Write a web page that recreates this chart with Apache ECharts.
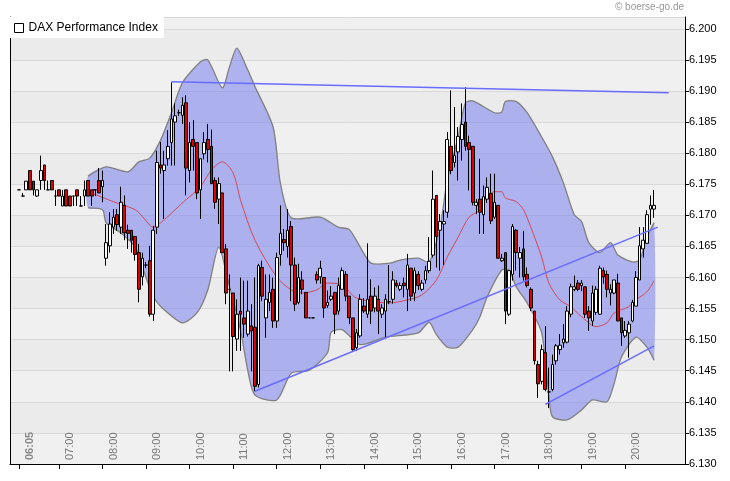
<!DOCTYPE html>
<html><head><meta charset="utf-8">
<script src="https://cdn.jsdelivr.net/npm/echarts@6/dist/echarts.min.js"></script>
<style>html,body{margin:0;padding:0;background:#fff}#c{width:730px;height:481px}</style>
</head><body><div id="c"></div>
<script>
const startTime = '06:05';
const hourLabels = ['06:05','07:00','08:00','09:00','10:00','11:00','12:00','13:00','14:00','15:00','16:00','17:00','18:00','19:00','20:00'];
const yTicks = [6130,6135,6140,6145,6150,6155,6160,6165,6170,6175,6180,6185,6190,6195,6200];
// [open, close, low, high], 5-minute candles from 06:05
const ohlc = [
[6174.1,6174.1,6174.1,6174.1],[6173.1,6173.1,6173.1,6173.6],[6174.1,6175.5,6174.1,6175.5],[6177.2,6174.1,6174.1,6177.2],
[6175.5,6174.1,6173.2,6175.5],[6173.1,6174.1,6173.0,6174.1],[6175.6,6177.2,6174.1,6179.6],[6178.1,6175.6,6174.1,6178.1],
[6174.1,6174.1,6174.1,6175.6],[6175.6,6174.1,6174.1,6175.6],[6173.1,6173.1,6171.5,6174.1],[6174.1,6173.1,6173.1,6174.1],
[6171.5,6173.1,6171.5,6174.1],[6174.1,6171.5,6171.5,6174.1],[6173.1,6171.5,6171.5,6173.1],[6173.1,6173.1,6171.5,6173.1],
[6174.1,6173.1,6171.5,6174.1],[6171.5,6171.5,6171.5,6173.1],[6173.1,6174.1,6171.5,6175.6],[6175.6,6173.1,6173.1,6175.6],
[6174.1,6173.1,6171.5,6174.1],[6174.1,6174.1,6173.1,6174.1],[6175.6,6173.6,6173.6,6177.6],[6174.6,6175.6,6172.1,6177.2],
[6163.1,6165.6,6161.9,6168.6],[6165.1,6168.6,6164.0,6170.5],[6168.1,6169.7,6167.0,6171.0],[6170.1,6168.5,6167.5,6171.0],
[6168.1,6172.1,6167.0,6174.6],[6171.6,6167.2,6166.0,6173.2],[6167.6,6167.1,6164.6,6168.5],[6167.6,6166.0,6164.0,6167.6],
[6166.6,6163.7,6162.7,6166.6],[6164.0,6158.1,6156.0,6165.4],[6160.1,6163.1,6158.7,6164.0],[6162.0,6162.0,6161.5,6162.5],
[6162.7,6154.1,6153.7,6165.1],[6154.1,6167.6,6153.0,6168.3],[6168.1,6178.5,6167.0,6180.4],[6178.1,6177.6,6176.7,6181.8],
[6177.2,6178.1,6169.4,6180.4],[6179.1,6181.1,6178.0,6183.7],[6181.7,6185.5,6178.0,6191.4],[6185.0,6186.0,6178.0,6188.0],
[6186.5,6186.5,6186.0,6187.0],[6186.1,6187.7,6184.7,6189.0],[6188.1,6177.6,6173.2,6189.3],[6177.2,6181.7,6175.3,6185.0],
[6182.2,6181.1,6177.2,6185.3],[6181.7,6173.6,6172.6,6181.7],[6174.1,6179.1,6169.4,6179.1],[6179.9,6181.7,6179.0,6183.4],
[6182.2,6180.6,6178.5,6184.7],[6181.1,6175.1,6175.1,6183.8],[6175.6,6172.1,6171.0,6176.1],[6172.6,6175.1,6168.6,6176.1],
[6173.6,6164.0,6164.0,6173.6],[6164.6,6157.5,6155.7,6165.4],[6158.1,6158.1,6144.9,6160.5],[6157.5,6150.5,6144.9,6157.5],
[6150.1,6154.1,6148.2,6156.5],[6154.6,6154.1,6148.2,6160.0],[6153.5,6152.5,6150.3,6159.5],[6150.9,6154.6,6150.5,6159.5],
[6152.2,6151.4,6144.9,6155.7],[6152.0,6142.5,6141.7,6160.0],[6142.8,6161.9,6142.3,6162.2],[6161.6,6157.0,6156.2,6162.7],
[6153.5,6156.5,6150.3,6160.5],[6156.0,6157.6,6154.6,6160.5],[6158.1,6153.0,6151.9,6160.0],[6153.0,6163.2,6151.9,6164.0],
[6163.7,6167.1,6161.9,6171.6],[6166.1,6165.6,6164.3,6167.8],[6165.0,6167.6,6163.2,6171.0],[6168.2,6162.0,6156.2,6169.1],
[6162.0,6155.7,6154.6,6163.2],[6156.0,6160.0,6155.7,6162.2],[6159.6,6158.1,6157.3,6161.0],[6157.6,6153.5,6153.5,6157.6],
[6153.5,6153.5,6153.5,6153.5],[6153.5,6153.5,6153.5,6153.5],[6160.5,6159.6,6159.0,6161.0],[6160.1,6161.5,6159.0,6162.7],
[6160.0,6155.1,6153.5,6160.0],[6155.5,6156.0,6155.1,6157.9],[6156.5,6157.0,6156.2,6158.6],[6157.6,6154.1,6150.9,6157.6],
[6154.6,6158.7,6154.0,6160.0],[6158.1,6161.1,6158.1,6161.6],[6160.5,6157.0,6156.2,6161.0],[6157.0,6153.5,6152.5,6157.0],
[6153.5,6148.4,6148.2,6153.5],[6148.7,6151.1,6148.2,6151.7],[6150.6,6156.5,6150.3,6157.3],[6155.4,6154.6,6154.3,6156.7],
[6154.1,6156.5,6153.5,6165.5],[6157.0,6154.6,6152.5,6159.7],[6155.1,6157.0,6154.4,6158.4],[6156.5,6154.6,6150.9,6158.7],
[6154.1,6155.1,6153.5,6155.7],[6154.6,6156.5,6150.3,6157.3],[6156.1,6156.1,6155.7,6162.0],[6156.5,6159.6,6155.8,6161.0],
[6159.1,6158.7,6158.4,6159.6],[6158.1,6158.7,6157.8,6159.2],[6159.1,6158.7,6156.8,6160.0],[6158.1,6162.0,6154.6,6163.8],
[6161.5,6157.0,6156.2,6161.5],[6157.5,6161.1,6156.2,6161.6],[6160.5,6158.7,6158.0,6161.0],[6158.1,6159.1,6157.8,6159.6],
[6159.6,6161.1,6159.0,6161.9],[6161.1,6162.6,6160.7,6166.5],[6163.6,6172.6,6163.2,6177.2],[6173.2,6166.6,6161.6,6173.2],
[6167.6,6169.0,6161.1,6170.2],[6168.6,6169.0,6162.0,6170.8],[6170.5,6182.2,6169.6,6183.4],[6181.1,6177.2,6176.6,6190.1],
[6178.5,6179.6,6177.7,6187.4],[6180.2,6182.7,6175.6,6184.2],[6182.2,6184.6,6178.8,6188.0],[6185.0,6181.1,6180.4,6190.6],
[6181.7,6180.6,6174.0,6182.8],[6181.1,6172.1,6171.6,6181.1],[6171.6,6172.1,6170.2,6172.6],[6172.6,6170.5,6167.0,6179.1],
[6170.1,6173.0,6167.0,6174.8],[6172.6,6174.5,6172.0,6176.1],[6173.5,6169.1,6168.6,6176.7],[6169.7,6172.1,6169.4,6176.7],
[6171.6,6163.1,6163.1,6171.6],[6162.7,6163.1,6162.5,6163.8],[6164.0,6154.6,6152.5,6164.0],[6154.1,6161.1,6153.8,6161.1],
[6160.5,6168.2,6159.5,6168.6],[6167.6,6164.0,6161.1,6167.8],[6163.1,6164.0,6160.0,6164.9],[6164.6,6160.1,6159.5,6167.5],
[6160.5,6158.7,6158.4,6161.6],[6158.1,6155.1,6154.6,6158.4],[6154.6,6146.6,6146.0,6154.6],[6146.0,6142.9,6140.6,6146.6],
[6143.3,6148.4,6142.8,6149.2],[6147.9,6142.0,6141.7,6152.2],[6141.6,6141.6,6139.0,6145.5],[6142.0,6146.0,6141.7,6147.6],
[6146.6,6149.0,6146.0,6149.3],[6148.4,6149.1,6147.6,6150.9],[6149.5,6150.1,6148.7,6152.5],[6149.6,6154.6,6149.4,6155.4],
[6154.1,6158.5,6153.6,6159.0],[6158.1,6158.5,6157.8,6160.3],[6159.1,6158.1,6157.8,6159.6],[6158.7,6159.1,6157.8,6159.6],
[6158.5,6154.1,6153.5,6158.5],[6154.6,6153.5,6151.4,6155.4],[6153.0,6157.5,6152.2,6158.7],[6154.4,6158.1,6154.0,6158.6],
[6154.1,6161.5,6154.0,6161.9],[6161.1,6160.1,6159.0,6161.6],[6160.5,6158.1,6156.8,6161.1],[6157.5,6158.1,6155.5,6158.9],
[6157.5,6159.6,6157.3,6159.6],[6159.1,6153.0,6153.0,6160.6],[6153.5,6151.1,6149.0,6153.5],[6150.6,6151.5,6150.3,6153.0],
[6151.1,6152.5,6147.1,6153.0],[6153.0,6156.0,6152.8,6156.4],[6155.4,6160.0,6155.4,6161.0],[6159.6,6165.1,6159.6,6168.1],
[6164.6,6166.0,6163.2,6168.1],[6165.5,6170.1,6165.5,6170.8],[6171.0,6171.6,6168.5,6173.2],[6171.0,6171.6,6169.6,6174.1]
];
// Bollinger band points: [candle index, value]
const bandUpper = [[19,6176.3],[24,6177.8],[30,6177.0],[33,6178.6],[36,6179.2],[39,6182.1],[42,6186.5],[45,6191.3],[50,6194.7],[52,6195.0],[56,6190.5],[58,6193.9],[60,6196.9],[63,6193.4],[65,6190.7],[70,6184.2],[72,6175.2],[75,6169.6],[83,6169.7],[88,6168.1],[91,6167.7],[94,6164.9],[97,6162.3],[102,6162.3],[105,6162.8],[110,6163.1],[113,6162.5],[116,6168.1],[118,6175.7],[121,6182.6],[123,6188.1],[125,6188.4],[131,6186.5],[133,6186.6],[134,6188.3],[137,6188.3],[140,6186.5],[144,6182.6],[147,6179.4],[150,6175.2],[153,6170.1],[155,6169.0],[157,6165.6],[160,6164.0],[163,6165.6],[165,6163.6],[169,6162.5],[171,6162.8],[173,6166.5],[175,6168.8]];
const bandLower = [[19,6171.2],[23,6170.9],[24,6168.8],[28,6167.2],[32,6164.9],[34,6161.7],[37,6156.9],[40,6154.8],[45,6152.7],[49,6154.3],[52,6158.0],[55,6164.9],[58,6158.5],[61,6151.6],[63,6145.1],[65,6141.1],[71,6140.3],[75,6144.6],[80,6145.1],[85,6147.9],[86,6151.2],[89,6151.6],[94,6149.2],[101,6150.4],[110,6151.1],[113,6152.8],[115,6150.8],[118,6148.8],[121,6148.8],[125,6151.6],[127,6153.7],[129,6156.9],[133,6161.2],[135,6161.2],[137,6158.5],[140,6155.9],[144,6151.1],[146,6140.8],[147,6137.6],[151,6137.1],[155,6138.7],[158,6140.3],[162,6140.0],[164,6143.0],[166,6147.2],[170,6150.4],[173,6148.8],[175,6146.7]];
const bandMiddle = [[19,6173.8],[26,6172.2],[32,6170.9],[34,6169.8],[37,6168.1],[40,6169.3],[43,6170.9],[46,6172.5],[50,6174.6],[53,6177.3],[56,6178.6],[59,6176.8],[61,6172.5],[65,6166.0],[71,6160.1],[75,6158.0],[78,6157.5],[82,6158.0],[85,6159.1],[89,6158.8],[93,6156.7],[102,6155.9],[107,6156.4],[111,6157.2],[115,6159.6],[118,6163.3],[121,6166.5],[124,6169.7],[127,6170.9],[128,6172.5],[131,6173.8],[133,6173.8],[134,6172.8],[137,6172.2],[139,6170.9],[141,6168.1],[144,6163.3],[146,6159.1],[149,6156.4],[152,6155.3],[155,6153.7],[159,6152.1],[162,6152.7],[164,6154.3],[168,6155.3],[170,6156.4],[173,6157.7],[175,6159.5]];
const trendTop = [[42,6191.5],[179,6189.7]];
const trendRise1 = [[65,6141.7],[176,6168.1]];
const trendRise2 = [[145,6139.6],[175,6149.0]];

const padL = 2, padR = 8;
const cats = [];
const t0 = 6*60+5;
for (let k = -padL; k < ohlc.length + padR; k++) {
  const m = t0 + 5*k;
  cats.push(String(Math.floor(m/60)).padStart(2,'0') + ':' + String(m%60).padStart(2,'0'));
}
const shift = a => a.map(p => [p[0] + padL, p[1]]);
const candleData = [];
for (let k = 0; k < padL; k++) candleData.push('-');
ohlc.forEach(d => candleData.push(d));

const chart = echarts.init(document.getElementById('c'));
const F = 'Liberation Sans, Arial, sans-serif';
const isHour = (i, v) => hourLabels.indexOf(v) >= 0;
chart.setOption({
  animation: false,
  backgroundColor: '#fff',
  grid: {left: 10, right: 45, top: 17, bottom: 17, show: true, backgroundColor: '#efefef', borderWidth: 0},
  legend: {
    data: [{name: 'DAX Performance Index', icon: 'rect', itemStyle: {color: '#fff', borderColor: '#000', borderWidth: 1}}],
    left: 10, top: 17, padding: [5, 6, 4, 4], itemGap: 4, itemWidth: 9, itemHeight: 9,
    backgroundColor: '#fff', textStyle: {fontFamily: F, fontSize: 12, color: '#000'}
  },
  graphic: [{type: 'text', right: 46, top: 2, style: {text: '© boerse-go.de', fill: '#999', font: '10px ' + F}}],
  xAxis: {
    type: 'category', data: cats, boundaryGap: true,
    axisLine: {show: true, lineStyle: {color: '#000'}},
    axisTick: {show: true, interval: isHour, alignWithLabel: true, length: 5, lineStyle: {color: '#000'}},
    axisLabel: {
      interval: isHour, inside: true, rotate: 90, margin: 4, color: '#777', fontFamily: F, fontSize: 11,
      padding: [22, 0, 0, 0],
      formatter: v => v === startTime ? '{b|' + v + '}' : v,
      rich: {b: {fontWeight: 'bold', color: '#888', fontFamily: F, fontSize: 11}}
    },
    splitLine: {show: false}
  },
  yAxis: [{
    type: 'value', position: 'right', min: 6130, max: 6201.9, interval: 5,
    axisLine: {show: true, lineStyle: {color: '#000'}},
    axisTick: {show: true, length: 4, lineStyle: {color: '#000'}},
    axisLabel: {showMaxLabel: false, color: '#000', fontFamily: F, fontSize: 11, margin: 4,
      formatter: v => yTicks.indexOf(v) >= 0 ? (v/1000).toFixed(3) : ''},
    splitLine: {lineStyle: {color: '#d9d9d9'}},
    splitArea: {show: true, areaStyle: {color: ['#f0f0f0', '#ebebeb']}}
  }, {
    type: 'value', position: 'left', min: 6130, max: 6201.9,
    axisLine: {show: true, lineStyle: {color: '#000'}}, axisTick: {show: false},
    axisLabel: {show: false}, splitLine: {show: false}
  }],
  series: [
    {
      type: 'custom', name: 'band', data: [[0]], z: 1, silent: true,
      renderItem: (params, api) => {
        const up = shift(bandUpper).map(p => api.coord(p));
        const lo = shift(bandLower).map(p => api.coord(p));
        const poly = up.concat(lo.slice().reverse());
        return {type: 'group', children: [
          {type: 'polygon', shape: {points: poly, smooth: 0.25}, style: {fill: 'rgba(120,128,238,0.55)', stroke: null}},
          {type: 'polyline', shape: {points: up, smooth: 0.25}, style: {stroke: '#808080', lineWidth: 1.3, fill: null}},
          {type: 'polyline', shape: {points: lo, smooth: 0.25}, style: {stroke: '#808080', lineWidth: 1.3, fill: null}}
        ]};
      }
    },
    {type: 'line', data: shift(bandMiddle), smooth: 0.3, showSymbol: false, z: 2, silent: true,
      lineStyle: {color: '#d4485a', width: 1}},
    {
      type: 'candlestick', name: 'DAX Performance Index', data: candleData, z: 3,
      barWidth: 3.2,
      itemStyle: {color: '#ffffff', color0: '#e00000', borderColor: '#000', borderColor0: '#000', borderWidth: 1}
    },
    {type: 'line', data: shift(trendTop), showSymbol: false, z: 4, silent: true, lineStyle: {color: '#6a6cff', width: 1.5}},
    {type: 'line', data: shift(trendRise1), showSymbol: false, z: 4, silent: true, lineStyle: {color: '#6a6cff', width: 1.5}},
    {type: 'line', data: shift(trendRise2), showSymbol: false, z: 4, silent: true, lineStyle: {color: '#6a6cff', width: 1.5}}
  ]
});
</script></body></html>
